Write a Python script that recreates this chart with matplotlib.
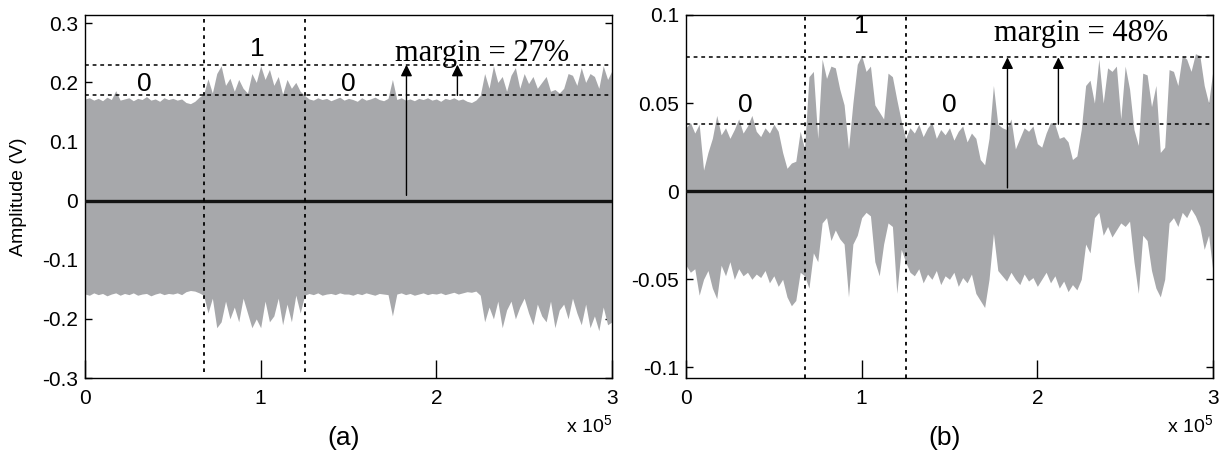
import numpy as np
import matplotlib
matplotlib.use("Agg")
import matplotlib.pyplot as plt

plt.rcParams['font.family'] = ['Liberation Sans', 'DejaVu Sans']
plt.rcParams['axes.unicode_minus'] = False
plt.rcParams['mathtext.default'] = 'regular'

# sample index in units of 1e5, envelope read every 0.025e5
x = np.linspace(0, 3, 121)

# panel (a): upper / lower envelope of the received signal (V)
upper_a = [0.172, 0.174, 0.170, 0.173, 0.169, 0.175, 0.171, 0.186, 0.170, 0.172,
           0.174, 0.169, 0.173, 0.171, 0.176, 0.170, 0.172, 0.168, 0.174, 0.171,
           0.173, 0.170, 0.172, 0.166, 0.164, 0.168, 0.175, 0.180, 0.206, 0.182,
           0.215, 0.228, 0.195, 0.207, 0.185, 0.205, 0.190, 0.182, 0.215, 0.200,
           0.228, 0.205, 0.222, 0.195, 0.210, 0.180, 0.205, 0.190, 0.200, 0.185,
           0.178, 0.172, 0.170, 0.174, 0.171, 0.173, 0.169, 0.172, 0.175, 0.170,
           0.173, 0.171, 0.168, 0.174, 0.170, 0.172, 0.175, 0.171, 0.169, 0.173,
           0.205, 0.171, 0.174, 0.170, 0.172, 0.169, 0.173, 0.171, 0.174, 0.170,
           0.172, 0.168, 0.173, 0.171, 0.174, 0.170, 0.172, 0.168, 0.166, 0.170,
           0.178, 0.215, 0.190, 0.228, 0.200, 0.210, 0.185, 0.212, 0.225, 0.190,
           0.215, 0.198, 0.210, 0.190, 0.200, 0.210, 0.185, 0.188, 0.182, 0.190,
           0.215, 0.212, 0.195, 0.225, 0.200, 0.215, 0.210, 0.190, 0.228, 0.205,
           0.220]
lower_a = [-0.158, -0.160, -0.156, -0.159, -0.157, -0.161, -0.158, -0.156, -0.160, -0.157,
           -0.159, -0.156, -0.160, -0.158, -0.157, -0.161, -0.158, -0.156, -0.159, -0.157,
           -0.158, -0.156, -0.159, -0.154, -0.152, -0.153, -0.156, -0.160, -0.190, -0.165,
           -0.215, -0.205, -0.170, -0.200, -0.180, -0.205, -0.165, -0.190, -0.215, -0.200,
           -0.215, -0.170, -0.205, -0.195, -0.165, -0.210, -0.175, -0.205, -0.160, -0.190,
           -0.160, -0.157, -0.159, -0.156, -0.160, -0.158, -0.157, -0.159, -0.156, -0.158,
           -0.158, -0.160, -0.157, -0.159, -0.156, -0.158, -0.160, -0.157, -0.158, -0.159,
           -0.195, -0.158, -0.156, -0.159, -0.157, -0.160, -0.158, -0.156, -0.159, -0.157,
           -0.158, -0.156, -0.159, -0.157, -0.155, -0.158, -0.156, -0.154, -0.155, -0.153,
           -0.160, -0.205, -0.180, -0.200, -0.170, -0.215, -0.185, -0.170, -0.200, -0.180,
           -0.165, -0.190, -0.210, -0.175, -0.195, -0.205, -0.170, -0.215, -0.185, -0.175,
           -0.200, -0.165, -0.190, -0.210, -0.175, -0.215, -0.195, -0.220, -0.180, -0.210,
           -0.205]

# panel (b)
upper_b = [0.036, 0.039, 0.033, 0.038, 0.012, 0.022, 0.030, 0.043, 0.032, 0.036,
           0.030, 0.035, 0.041, 0.033, 0.037, 0.043, 0.034, 0.031, 0.036, 0.033,
           0.038, 0.034, 0.022, 0.013, 0.016, 0.017, 0.034, 0.024, 0.065, 0.068,
           0.030, 0.075, 0.064, 0.071, 0.070, 0.058, 0.049, 0.024, 0.050, 0.072,
           0.077, 0.068, 0.071, 0.049, 0.045, 0.041, 0.067, 0.065, 0.052, 0.040,
           0.030, 0.036, 0.033, 0.038, 0.031, 0.036, 0.039, 0.030, 0.035, 0.032,
           0.036, 0.029, 0.034, 0.037, 0.028, 0.033, 0.030, 0.018, 0.015, 0.030,
           0.060, 0.038, 0.036, 0.035, 0.041, 0.024, 0.030, 0.036, 0.034, 0.037,
           0.027, 0.025, 0.033, 0.039, 0.038, 0.030, 0.031, 0.028, 0.018, 0.020,
           0.035, 0.060, 0.063, 0.050, 0.075, 0.050, 0.070, 0.068, 0.071, 0.041,
           0.071, 0.058, 0.035, 0.026, 0.067, 0.066, 0.048, 0.060, 0.022, 0.025,
           0.069, 0.068, 0.060, 0.077, 0.075, 0.068, 0.078, 0.077, 0.060, 0.050,
           0.069]
lower_b = [-0.042, -0.046, -0.044, -0.059, -0.050, -0.045, -0.055, -0.061, -0.042, -0.048,
           -0.040, -0.050, -0.044, -0.048, -0.046, -0.050, -0.047, -0.049, -0.045, -0.052,
           -0.048, -0.054, -0.050, -0.060, -0.065, -0.062, -0.046, -0.048, -0.055, -0.035,
           -0.040, -0.018, -0.015, -0.028, -0.022, -0.027, -0.030, -0.060, -0.030, -0.025,
           -0.015, -0.012, -0.014, -0.040, -0.048, -0.030, -0.018, -0.020, -0.058, -0.033,
           -0.040, -0.046, -0.048, -0.044, -0.052, -0.047, -0.050, -0.045, -0.053, -0.048,
           -0.050, -0.046, -0.054, -0.049, -0.052, -0.047, -0.058, -0.062, -0.066, -0.050,
           -0.024, -0.045, -0.048, -0.051, -0.046, -0.050, -0.053, -0.047, -0.051, -0.049,
           -0.054, -0.050, -0.046, -0.052, -0.048, -0.055, -0.051, -0.057, -0.053, -0.056,
           -0.050, -0.030, -0.035, -0.015, -0.012, -0.025, -0.020, -0.026, -0.022, -0.018,
           -0.020, -0.017, -0.040, -0.058, -0.025, -0.028, -0.045, -0.055, -0.060, -0.050,
           -0.018, -0.015, -0.020, -0.012, -0.015, -0.010, -0.014, -0.020, -0.033, -0.025,
           -0.046]

bit_edges = [0.675, 1.255]          # x 1e5
bit_labels = ['0', '1', '0']
margin_a = [0.178, 0.23]            # "0" level, "1" level
margin_b = [0.038, 0.076]
margin_text = ['margin = 27%', 'margin = 48%']

yticks_a = [-0.3, -0.2, -0.1, 0, 0.1, 0.2, 0.3]
ytick_labels_a = ['-0.3', '-0.2', '-0.1', '0', '0.1', '0.2', '0.3']
yticks_b = [-0.1, -0.05, 0, 0.05, 0.1]
ytick_labels_b = ['-0.1', '-0.05', '0', '0.05', '0.1']
xticks = [0, 1, 2, 3]

grey = '#a7a8ab'

fig = plt.figure(figsize=(12.29, 4.5), dpi=100)
ax_a = fig.add_axes([85 / 1229, 72 / 450, 527 / 1229, 363 / 450])
ax_b = fig.add_axes([686 / 1229, 72 / 450, 527 / 1229, 363 / 450])


def draw_panel(ax, upper, lower, levels, yticks, ylabels, ylim, vl_bottom,
               txt_pos, bit_pos, label, margin):
    ax.fill_between(x, lower, upper, color=grey, lw=0, zorder=1)
    ax.axhline(0, color='#141414', lw=2.4, zorder=3)
    for lv in levels:
        ax.axhline(lv, color='k', lw=1.1, ls=(0, (2.5, 2.5)), zorder=3)
    ax.vlines(bit_edges, vl_bottom, ylim[1], color='k', lw=1.3,
              linestyles=(0, (2, 2.5)), zorder=3)
    # arrows showing the margin
    for xa, y0 in [(1.83, levels[0] * 0.05), (2.12, levels[0])]:
        ax.annotate('', xy=(xa, levels[1]), xytext=(xa, y0),
                    arrowprops=dict(arrowstyle='-|>', lw=1, color='k',
                                    mutation_scale=17, shrinkA=0, shrinkB=0),
                    zorder=4)
    ax.text(txt_pos[0], txt_pos[1], margin, family='Liberation Serif',
            fontsize=22, ha='center', va='baseline')
    for (bx, by), b in zip(bit_pos, bit_labels):
        ax.text(bx, by, b, fontsize=19, ha='center', va='center')

    ax.set_xlim(0, 3)
    ax.set_ylim(*ylim)
    ax.set_xticks(xticks)
    ax.set_xticklabels([str(t) for t in xticks])
    ax.set_yticks(yticks)
    ax.set_yticklabels(ylabels)
    ax.set_axisbelow(True)
    ax.tick_params(axis='x', direction='in', length=13, width=1, pad=8,
                   labelsize=15)
    ax.tick_params(axis='y', direction='in', length=5, width=1, pad=5,
                   labelsize=15, right=True)
    for s in ax.spines.values():
        s.set_linewidth(1)
    ax.text(1.0, -0.13, r'x 10$^5$', transform=ax.transAxes, ha='right',
            va='center', fontsize=14)
    ax.text(0.49, -0.165, label, transform=ax.transAxes, ha='center',
            va='center', fontsize=19)


draw_panel(ax_a, upper_a, lower_a, margin_a, yticks_a, ytick_labels_a,
           (-0.3, 0.314), -0.29, (2.26, 0.237),
           [(0.34, 0.198), (0.98, 0.257), (1.5, 0.198)], '(a)', margin_text[0])
draw_panel(ax_b, upper_b, lower_b, margin_b, yticks_b, ytick_labels_b,
           (-0.106, 0.1), -0.106, (2.25, 0.085),
           [(0.34, 0.049), (1.0, 0.094), (1.5, 0.049)], '(b)', margin_text[1])

ax_a.set_ylabel('Amplitude (V)', fontsize=14)
ax_a.yaxis.set_label_coords(-0.11, 0.5)

fig.savefig('out.png', dpi=100)
